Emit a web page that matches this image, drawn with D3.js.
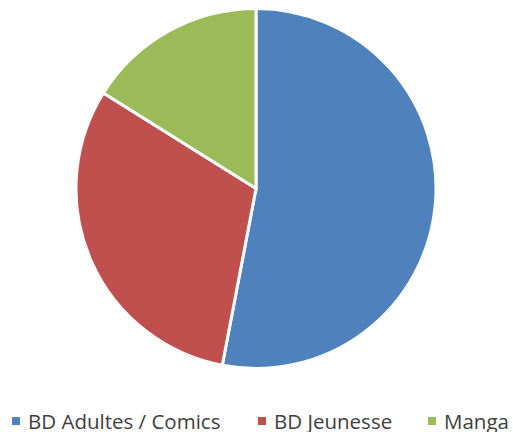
<!DOCTYPE html>
<html>
<head>
<meta charset="utf-8">
<script src="https://cdn.jsdelivr.net/npm/d3@7"></script>
<style>
  html, body { margin: 0; padding: 0; background: #fff; overflow: hidden; }
</style>
</head>
<body>
<div id="chart"></div>
<script>
  const categories = ['BD Adultes / Comics', 'BD Jeunesse', 'Manga']
  const values = [53, 30.9, 16.1]
  const colors = ['#4F81BD', '#C0504D', '#9BBB59']

  const width = 513
  const height = 432
  const cx = 256
  const cy = 188.5
  const R = 180

  const svg = d3.select('#chart').append('svg')
      .attr('width', width)
      .attr('height', height)
      .style('display', 'block')

  const pie = d3.pie().sort(null).value(d => d.value)
  const arc = d3.arc().innerRadius(0).outerRadius(R)
  const color = d3.scaleOrdinal().domain(categories).range(colors)

  const data = categories.map((c, i) => ({ name: c, value: values[i] }))

  svg.append('g')
      .attr('transform', `translate(${cx},${cy})`)
    .selectAll('path')
    .data(pie(data))
    .enter().append('path')
      .attr('d', arc)
      .attr('fill', d => color(d.data.name))
      .attr('stroke', '#fff')
      .attr('stroke-width', 3)
      .attr('stroke-linejoin', 'miter')

  // legend
  const legendX = [12, 258, 428]
  const legend = svg.append('g')
      .attr('font-family', '"Open Sans", sans-serif')
      .attr('font-size', 20.5)
      .attr('fill', '#404040')
    .selectAll('g')
    .data(categories)
    .enter().append('g')
      .attr('transform', (d, i) => `translate(${legendX[i]},421)`)

  legend.append('rect')
      .attr('x', 0)
      .attr('y', -4)
      .attr('width', 8)
      .attr('height', 8)
      .attr('fill', d => color(d))

  legend.append('text')
      .attr('x', 16)
      .attr('y', 8)
      .text(d => d)
</script>
</body>
</html>
